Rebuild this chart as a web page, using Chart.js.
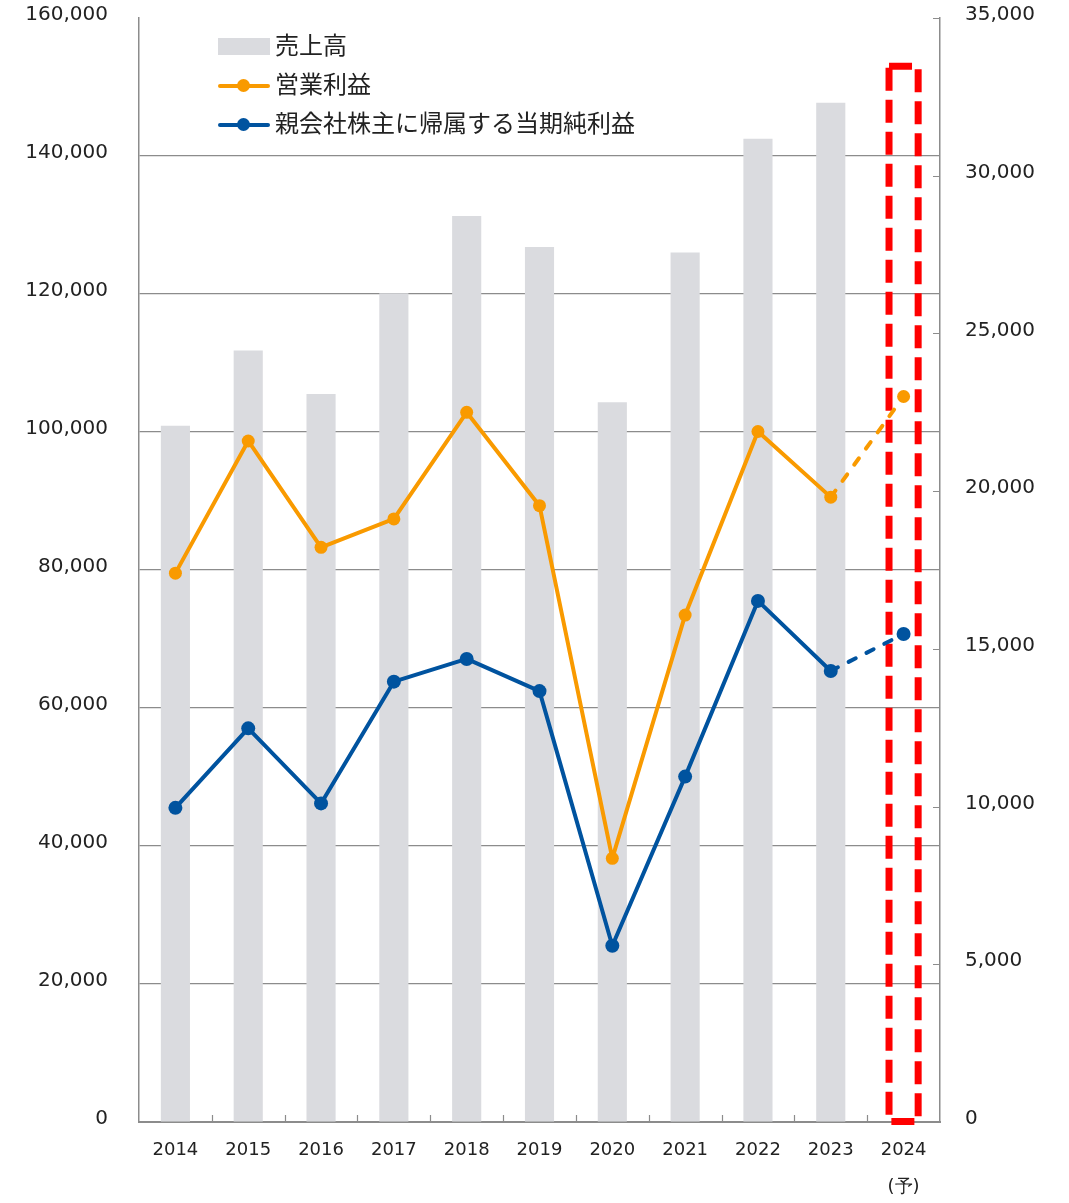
<!DOCTYPE html>
<html lang="ja">
<head>
<meta charset="utf-8">
<title>売上高・営業利益・親会社株主に帰属する当期純利益</title>
<script src="https://cdn.jsdelivr.net/npm/chart.js@4.4.1/dist/chart.umd.min.js"></script>
<style>
  html, body { margin: 0; padding: 0; background: #fff; }
  #wrap { position: relative; width: 1069px; height: 1203px; }
  #legend {
    position: absolute; left: 218px; top: 27px;
    font-family: "Noto Sans CJK JP", sans-serif; font-size: 24px; color: #222;
  }
  .item { display: flex; align-items: center; height: 39px; }
  .mark { position: relative; width: 52px; height: 20px; margin-right: 5px; flex: none; }
  .swatch { position: absolute; left: 0; top: 1px; width: 52px; height: 17px; }
  .stroke { position: absolute; left: 0; top: 8px; width: 52px; height: 4px; border-radius: 2px; }
  .dot { position: absolute; left: 19px; top: 3.5px; width: 13px; height: 13px; border-radius: 50%; }
  .text { position: relative; top: -3px; white-space: nowrap; }
</style>
</head>
<body>
<div id="wrap">
  <canvas id="chart"></canvas>
  <div id="legend"></div>
</div>
<script>
// fiscal years, last one is the forecast
const years = ['2014', '2015', '2016', '2017', '2018', '2019', '2020', '2021', '2022', '2023', ['2024', '(予)']];
const forecastIndex = 10;

// 売上高 (left axis)
const sales = [100900, 111800, 105500, 120100, 131300, 126800, 104300, 126000, 142500, 147700, null];
// 営業利益 (right axis)
const operatingProfit = [17400, 21590, 18220, 19120, 22500, 19540, 8360, 16070, 21890, 19810, 23000];
// 親会社株主に帰属する当期純利益 (right axis)
const netIncome = [9960, 12480, 10100, 13960, 14680, 13660, 5590, 10950, 16520, 14300, 15470];
// height of the dashed forecast frame (left axis)
const forecastFrame = [null, null, null, null, null, null, null, null, null, null, 153000];

// axis ranges
const leftMax = 160000, leftStep = 20000;
const rightMax = 35000, rightStep = 5000;

const ORANGE = '#F99A00';
const BLUE = '#00539F';
const BAR_GREY = '#DADBDF';
const AXIS_GREY = '#8C8C8C';
const RED = '#FF0000';
const NUM_FONT = 'DejaVu Sans';

const dashForecast = ctx => ctx.p1DataIndex === forecastIndex ? [8, 12] : undefined;

// keep the value axes from reserving room for their end labels
const fitValueAxis = width => s => {
    s.width = width;
    s.paddingTop = 0;
    s.paddingBottom = 0;
};

// small inward ticks + dashed forecast frame
const extras = {
    id: 'extras',
    beforeDatasetsDraw(chart) {
        const { ctx, chartArea, scales } = chart;
        const x = scales.x, y1 = scales.y1;
        ctx.save();
        ctx.strokeStyle = AXIS_GREY;
        ctx.lineWidth = 1.2;
        ctx.beginPath();
        for (let i = 1; i < years.length; i++) {
            const px = Math.round((x.getPixelForValue(i - 1) + x.getPixelForValue(i)) / 2) + 0.5;
            ctx.moveTo(px, chartArea.bottom);
            ctx.lineTo(px, chartArea.bottom - 7);
        }
        y1.ticks.forEach(t => {
            const py = Math.round(y1.getPixelForValue(t.value)) + 0.5;
            ctx.moveTo(chartArea.right - 7, py);
            ctx.lineTo(chartArea.right, py);
        });
        ctx.stroke();
        ctx.restore();
    },
    afterDatasetDraw(chart, args) {
        if (args.index !== 3) return;
        const ctx = chart.ctx;
        ctx.save();
        ctx.strokeStyle = RED;
        ctx.lineWidth = 7;
        ctx.setLineDash([23, 9]);
        args.meta.data.forEach((bar, i) => {
            if (forecastFrame[i] == null) return;
            const { x, y, base, width } = bar.getProps(['x', 'y', 'base', 'width'], true);
            ctx.strokeRect(x - width / 2, y, width, base - y);
        });
        ctx.restore();
    }
};

const chart = new Chart(document.getElementById('chart'), {
    data: {
        labels: years,
        datasets: [
            {
                type: 'line',
                label: '営業利益',
                data: operatingProfit,
                yAxisID: 'y1',
                borderColor: ORANGE,
                backgroundColor: ORANGE,
                borderWidth: 4,
                borderCapStyle: 'round',
                borderJoinStyle: 'round',
                pointRadius: 6.5,
                pointBorderWidth: 0,
                segment: { borderDash: dashForecast },
                order: 1
            },
            {
                type: 'line',
                label: '親会社株主に帰属する当期純利益',
                data: netIncome,
                yAxisID: 'y1',
                borderColor: BLUE,
                backgroundColor: BLUE,
                borderWidth: 4,
                borderCapStyle: 'round',
                borderJoinStyle: 'round',
                pointRadius: 7,
                pointBorderWidth: 0,
                segment: { borderDash: dashForecast },
                order: 1
            },
            {
                type: 'bar',
                label: '売上高',
                data: sales,
                yAxisID: 'y',
                backgroundColor: BAR_GREY,
                grouped: false,
                barPercentage: 0.4,
                categoryPercentage: 1,
                order: 3
            },
            {
                type: 'bar',
                label: '予想',
                data: forecastFrame,
                yAxisID: 'y',
                backgroundColor: 'rgba(0,0,0,0)',
                grouped: false,
                barPercentage: 0.4,
                categoryPercentage: 1,
                order: 2
            }
        ]
    },
    options: {
        responsive: true,
        maintainAspectRatio: false,
        animation: false,
        events: [],
        layout: { padding: { top: 18, left: 0, right: 0, bottom: 0 } },
        plugins: { legend: { display: false }, tooltip: { enabled: false } },
        scales: {
            x: {
                grid: { display: false, drawTicks: false },
                border: { color: AXIS_GREY, width: 2 },
                ticks: {
                    color: '#222',
                    padding: 9,
                    maxRotation: 0,
                    autoSkip: false,
                    font: { family: NUM_FONT, size: 18, lineHeight: 2.1 }
                },
                afterFit: s => { s.height = 81; s.paddingLeft = 0; s.paddingRight = 0; }
            },
            y: {
                position: 'left',
                min: 0,
                max: leftMax,
                grid: {
                    drawTicks: false,
                    lineWidth: 1.2,
                    color: c => c.tick && c.tick.value === leftMax ? 'rgba(0,0,0,0)' : AXIS_GREY
                },
                border: { color: AXIS_GREY, width: 1.5 },
                ticks: {
                    stepSize: leftStep,
                    padding: 31,
                    labelOffset: -3,
                    color: '#222',
                    font: { family: NUM_FONT, size: 20 },
                    callback: v => v.toLocaleString('en-US')
                },
                afterFit: fitValueAxis(139)
            },
            y1: {
                position: 'right',
                min: 0,
                max: rightMax,
                grid: { drawOnChartArea: false, drawTicks: false },
                border: { color: AXIS_GREY, width: 1.5 },
                ticks: {
                    stepSize: rightStep,
                    padding: 25,
                    labelOffset: -3,
                    color: '#222',
                    font: { family: NUM_FONT, size: 20 },
                    callback: v => v.toLocaleString('en-US')
                },
                afterFit: fitValueAxis(129)
            }
        }
    },
    plugins: [extras]
});

// legend: 売上高 first, then the two lines
const legendOrder = [2, 0, 1];
document.getElementById('legend').innerHTML = legendOrder.map(i => {
    const ds = chart.data.datasets[i];
    const mark = ds.type === 'bar'
        ? `<span class="swatch" style="background:${ds.backgroundColor}"></span>`
        : `<span class="stroke" style="background:${ds.borderColor}"></span><span class="dot" style="background:${ds.borderColor}"></span>`;
    return `<div class="item"><span class="mark">${mark}</span><span class="text">${ds.label}</span></div>`;
}).join('');
</script>
</body>
</html>
